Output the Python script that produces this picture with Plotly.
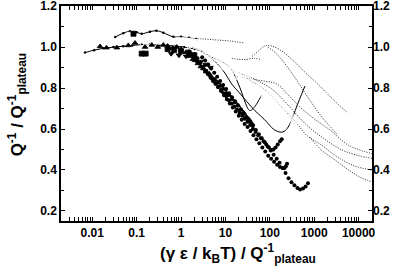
import plotly.graph_objects as go

# ---------------- data ----------------
# solid lines with small dots
line_low_x = [0.0069, 0.011, 0.018, 0.03, 0.05, 0.08, 0.13, 0.2, 0.33, 0.5, 0.8, 1.2, 2.0, 3.0]
line_low_y = [0.973, 0.985, 0.994, 1.0, 1.004, 1.008, 1.012, 1.012, 1.01, 1.008, 1.004, 1.0, 0.99, 0.98]
line_up_x = [0.033, 0.05, 0.07, 0.1, 0.13, 0.2, 0.28, 0.4, 0.67, 1.0, 1.5, 2.2]
line_up_y = [1.049, 1.068, 1.077, 1.072, 1.065, 1.075, 1.08, 1.07, 1.05, 1.05, 1.045, 1.04]

# solid curves with minima
s1_x = [2.5, 4, 6.5, 10, 13.8, 20, 30, 46, 65, 85, 120, 170, 210, 260, 330, 420, 520, 620]
s1_y = [0.99, 0.96, 0.92, 0.87, 0.82, 0.78, 0.735, 0.69, 0.66, 0.635, 0.60, 0.585, 0.588, 0.61, 0.66, 0.72, 0.77, 0.81]
s2_x = [1.8, 3, 5, 8, 12.6, 18, 25, 32, 36, 42, 50, 58, 66]
s2_y = [1.0, 0.975, 0.95, 0.93, 0.90, 0.84, 0.76, 0.70, 0.69, 0.70, 0.72, 0.745, 0.764]

# dotted lines
d1_x = [1.6, 3, 6, 12, 27]
d1_y = [1.04, 1.04, 1.035, 1.03, 1.02]
d2_x = [14, 20, 30, 45, 60]
d2_y = [0.945, 0.94, 0.94, 0.945, 0.94]
d3_x = [40, 55, 70, 85, 110, 160, 280, 600, 1200, 2500, 5400]
d3_y = [0.955, 0.98, 1.0, 1.008, 1.005, 0.99, 0.95, 0.88, 0.82, 0.75, 0.683]
d4_x = [90, 130, 200, 400, 800, 1600, 3200]
d4_y = [1.0, 0.975, 0.93, 0.84, 0.74, 0.65, 0.577]
d5_x = [18, 35, 70, 143, 250, 480, 1000, 2300, 6000, 20000]
d5_y = [0.86, 0.845, 0.835, 0.82, 0.77, 0.707, 0.65, 0.594, 0.52, 0.48]
d6_x = [16, 30, 60, 120, 250, 670, 1500, 4000, 10000, 20000]
d6_y = [0.88, 0.86, 0.83, 0.79, 0.72, 0.62, 0.56, 0.50, 0.47, 0.457]
d7_x = [25, 50, 100, 200, 400, 670, 1500, 3000, 8000, 20000]
d7_y = [0.85, 0.82, 0.77, 0.70, 0.63, 0.57, 0.52, 0.47, 0.42, 0.40]
d8_x = [800, 1400, 2900, 6000, 12000, 20000]
d8_y = [0.56, 0.50, 0.45, 0.40, 0.36, 0.342]

# markers
tri_f_x = [0.015, 0.021, 0.036, 0.065, 0.092, 0.155, 0.22, 0.3, 0.4, 0.5, 0.65, 0.8, 1.0, 1.3,
           1.6, 1.85, 2.1, 2.4, 2.8, 3.2, 3.7, 4.3, 5.0, 5.8, 6.7, 7.8, 9.0, 10.5, 12.2, 14.1,
           16.4, 19, 22, 25.5, 29.6, 34.3, 39.8]
tri_f_y = [1.003, 0.997, 0.997, 1.008, 1.02, 1.0, 1.01, 1.0, 1.01, 1.005, 0.995, 1.0, 0.99, 0.975,
           0.955, 0.94, 0.935, 0.92, 0.905, 0.895, 0.88, 0.87, 0.85, 0.84, 0.825, 0.81, 0.795, 0.775, 0.765, 0.745,
           0.73, 0.715, 0.695, 0.68, 0.66, 0.645, 0.625]
sq_f_x = [0.13, 0.16, 0.085, 0.5, 0.7, 1.0, 1.5, 2.0]
sq_f_y = [0.968, 0.968, 1.065, 0.99, 0.985, 0.98, 0.97, 0.96]
sq_o_x = [0.07, 0.14, 0.16, 0.18, 0.21, 0.24, 0.28, 0.32, 0.37, 0.43, 0.5, 0.57, 0.66, 0.76, 0.88,
          1.0, 1.15, 1.33, 1.53, 1.77, 2.04, 2.35, 2.7, 3.1, 3.6, 4.2, 4.8, 5.5, 6.4, 7.4, 8.5, 10]
sq_o_y = [1.06, 1.02, 1.025, 1.02, 1.025, 1.028, 1.03, 1.025, 1.03, 1.03, 1.028, 1.032, 1.03, 1.03, 1.035,
          1.03, 1.032, 1.03, 1.028, 1.03, 1.025, 1.025, 1.02, 1.02, 1.015, 1.012, 1.005, 1.0, 0.99, 0.985, 0.975, 0.965]
circ_o_x = [0.16, 0.09, 1.2, 1.38, 1.58, 1.82, 2.09, 2.4, 2.75, 3.16, 3.63, 4.17, 4.79, 5.5, 6.31, 7.24,
            8.32, 9.55, 11, 12.6, 14.5, 16.6, 19.1, 21.9, 25.1, 28.8, 33.1, 38, 43.7, 50.1, 57.5, 66.1,
            75.9, 87.1, 100, 115, 132, 151, 174, 200, 229, 263, 302, 347, 398]
circ_o_y = [1.098, 0.96, 1.035, 1.03, 1.025, 1.015, 1.01, 1.0, 0.995, 0.985, 0.98, 0.97, 0.965, 0.955, 0.945, 0.94,
            0.93, 0.92, 0.91, 0.905, 0.895, 0.885, 0.875, 0.87, 0.86, 0.85, 0.84, 0.83, 0.82, 0.805, 0.80, 0.79,
            0.78, 0.77, 0.76, 0.755, 0.745, 0.735, 0.725, 0.71, 0.695, 0.68, 0.66, 0.645, 0.625]
dia_o_x = [0.34, 1.29, 1.48, 1.70, 1.95, 2.24, 2.57, 2.95, 3.39, 3.89, 4.47, 5.13, 5.89, 6.76, 7.76, 8.91,
           10.2, 11.7, 13.5, 15.5, 17.8, 20.4, 23.4, 26.9, 30.9, 35.5, 40.7, 46.8, 53.7, 61.7, 70.8, 81.3,
           93.3, 107, 123, 141, 162, 186, 214, 245, 282, 324, 372]
dia_o_y = [0.935, 1.02, 1.012, 1.0, 0.995, 0.985, 0.982, 0.97, 0.965, 0.955, 0.95, 0.94, 0.932, 0.925, 0.915, 0.905,
           0.898, 0.888, 0.88, 0.87, 0.86, 0.852, 0.842, 0.835, 0.825, 0.815, 0.805, 0.795, 0.785, 0.78, 0.77, 0.76,
           0.752, 0.742, 0.735, 0.725, 0.712, 0.70, 0.685, 0.668, 0.652, 0.635, 0.62]
tri_dn_f_x = [0.6, 0.9, 1.3, 2.0, 2.8, 3.6, 4.6]
tri_dn_f_y = [0.968, 0.96, 0.955, 0.945, 0.93, 0.915, 0.9]
tri_dn_o_x = [0.62]
tri_dn_o_y = [1.106]
tri_up_o_x = [24]
tri_up_o_y = [0.984]

chainA_x = [1.51, 1.74, 2.0, 2.29, 2.63, 3.02, 3.47, 3.98, 4.57, 5.25, 6.03, 6.92, 7.94, 9.12, 10.5, 12.0,
            13.8, 15.8, 18.2, 20.9, 24.0, 27.5, 31.6, 36.3, 41.7, 47.9, 55.0, 63.1, 72.4, 83.2, 95.5, 107,
            120, 135, 151, 170, 186]
chainA_y = [0.98, 0.965, 0.95, 0.93, 0.92, 0.90, 0.885, 0.87, 0.855, 0.835, 0.82, 0.805, 0.79, 0.775, 0.76, 0.74,
            0.725, 0.71, 0.695, 0.68, 0.665, 0.65, 0.635, 0.62, 0.60, 0.585, 0.57, 0.555, 0.54, 0.525, 0.51, 0.497,
            0.50, 0.51, 0.525, 0.54, 0.55]
chainB_x = [2.0, 2.34, 2.72, 3.17, 3.7, 4.3, 5.0, 5.9, 6.8, 8.0, 9.3, 10.8, 12.6, 14.7, 17.1, 20,
            23.3, 27.1, 31.6, 36.8, 42.9, 50, 58, 68, 79, 92, 107, 125, 146, 170, 199, 215, 230, 245]
chainB_y = [0.965, 0.945, 0.925, 0.905, 0.885, 0.865, 0.845, 0.825, 0.805, 0.785, 0.765, 0.745, 0.725, 0.705, 0.685, 0.665,
            0.645, 0.625, 0.61, 0.59, 0.57, 0.55, 0.53, 0.51, 0.49, 0.47, 0.455, 0.44, 0.425, 0.415, 0.408, 0.41, 0.418, 0.43]
chainC_x = [3.0, 3.5, 4.1, 4.8, 5.6, 6.5, 7.6, 8.9, 10.4, 12.1, 14.1, 16.5, 19.2, 22.4, 26.2, 30.5,
            35.6, 41.6, 48.5, 56.6, 66, 77, 90, 105, 122, 143, 166, 194, 226, 264, 308, 359,
            419, 480, 560, 640, 725]
chainC_y = [0.95, 0.935, 0.915, 0.895, 0.875, 0.855, 0.835, 0.815, 0.795, 0.775, 0.755, 0.735, 0.715, 0.695, 0.675, 0.655,
            0.635, 0.615, 0.595, 0.575, 0.555, 0.535, 0.515, 0.495, 0.475, 0.455, 0.435, 0.41, 0.385, 0.36, 0.34, 0.325,
            0.312, 0.305, 0.31, 0.32, 0.335]

x_tickvals = [0.01, 0.1, 1, 10, 100, 1000, 10000]
x_ticktext = ["0.01", "0.1", "1", "10", "100", "1000", "10000"]
y_tickvals = [0.2, 0.4, 0.6, 0.8, 1.0, 1.2]
y_ticktext = ["0.2", "0.4", "0.6", "0.8", "1.0", "1.2"]

# ---------------- figure ----------------
fig = go.Figure()
BLK = "black"
DOT = "#222222"

def dotted(x, y):
    fig.add_trace(go.Scatter(x=x, y=y, mode="lines",
                             line=dict(color=DOT, width=1, dash="1px,1.5px", shape="spline")))

def solid(x, y, ms=2.5):
    fig.add_trace(go.Scatter(x=x, y=y, mode="lines+markers", line=dict(color=BLK, width=1, shape="spline"),
                             marker=dict(size=ms, color=BLK)))

def marks(x, y, sym, size=5, filled=True, lw=0.8):
    fig.add_trace(go.Scatter(x=x, y=y, mode="markers",
                             marker=dict(symbol=sym, size=size, color=BLK if filled else "white",
                                         line=dict(color=BLK, width=lw))))

for dx, dy in [(d1_x, d1_y), (d2_x, d2_y), (d3_x, d3_y), (d4_x, d4_y), (d5_x, d5_y),
               (d6_x, d6_y), (d7_x, d7_y), (d8_x, d8_y)]:
    dotted(dx, dy)

solid(line_low_x, line_low_y)
solid(line_up_x, line_up_y)
fig.add_trace(go.Scatter(x=s1_x, y=s1_y, mode="lines", line=dict(color=BLK, width=1, shape="spline")))
fig.add_trace(go.Scatter(x=s2_x, y=s2_y, mode="lines", line=dict(color=BLK, width=1, shape="spline")))

marks(circ_o_x, circ_o_y, "circle-open", 6, False)
marks(dia_o_x, dia_o_y, "diamond-open", 6, False)
marks(sq_o_x, sq_o_y, "square-open", 5, False)
marks(tri_dn_o_x, tri_dn_o_y, "triangle-down-open", 7, False)
marks(tri_up_o_x, tri_up_o_y, "triangle-up-open", 7, False)
marks(sq_f_x, sq_f_y, "square", 5)
marks(tri_dn_f_x, tri_dn_f_y, "triangle-down", 5)
marks(tri_f_x, tri_f_y, "triangle-up", 5)
marks(chainA_x, chainA_y, "circle", 4, lw=0)
marks(chainB_x, chainB_y, "circle", 4, lw=0)
marks(chainC_x, chainC_y, "circle", 4, lw=0)

# invisible trace for right axis
fig.add_trace(go.Scatter(x=[1], y=[1], yaxis="y2", mode="markers", marker=dict(opacity=0), hoverinfo="skip"))

tickfont = dict(family="Liberation Sans, Arial", size=12, color=BLK, weight="bold")
titlefont = dict(family="Liberation Sans, Arial", size=17, color=BLK, weight="bold")
YR = [0.151, 1.2005]
fig.update_layout(
    width=396, height=273, showlegend=False,
    margin=dict(l=61, r=24, t=6, b=52),
    plot_bgcolor="white", paper_bgcolor="white",
    xaxis=dict(type="log", range=[-2.703, 4.302], tickvals=x_tickvals, ticktext=x_ticktext,
               ticks="inside", ticklen=4, tickwidth=1, tickcolor=BLK, showline=True, linecolor=BLK,
               linewidth=1.5, mirror="allticks", showgrid=False, zeroline=False, tickfont=tickfont,
               automargin=False, ticklabeloverflow="allow",
               minor=dict(ticks="inside", ticklen=2, tickcolor=BLK, dtick="D1", showgrid=False)),
    yaxis=dict(range=YR, tickvals=y_tickvals, ticktext=y_ticktext,
               ticks="inside", ticklen=4, tickwidth=1, tickcolor=BLK, showline=True, linecolor=BLK,
               linewidth=1.5, mirror="allticks", showgrid=False, zeroline=False, tickfont=tickfont,
               automargin=False, ticklabeloverflow="allow",
               minor=dict(ticks="inside", ticklen=3, tickcolor=BLK, dtick=0.1, tick0=0.1, showgrid=False)),
    yaxis2=dict(range=YR, overlaying="y", side="right", tickvals=y_tickvals, ticktext=y_ticktext,
                ticks="", showline=False, showgrid=False, zeroline=False, tickfont=tickfont,
                automargin=False, ticklabeloverflow="allow"),
    annotations=[
        dict(text="(γ ε / k<sub>B</sub>T) / Q<sup>-1</sup><sub>plateau</sub>", xref="paper", yref="paper",
             x=0.57, y=-0.15, xanchor="center", yanchor="middle", showarrow=False, font=titlefont),
        dict(text="Q<sup>-1</sup> / Q<sup>-1</sup><sub>plateau</sub>", xref="paper", yref="paper",
             x=-0.14, y=0.54, xanchor="center", yanchor="middle", textangle=-90, showarrow=False,
             font=titlefont),
    ],
)

fig.write_html("out.html", config={"displayModeBar": False},
               post_script="document.body.style.margin='0px';")
